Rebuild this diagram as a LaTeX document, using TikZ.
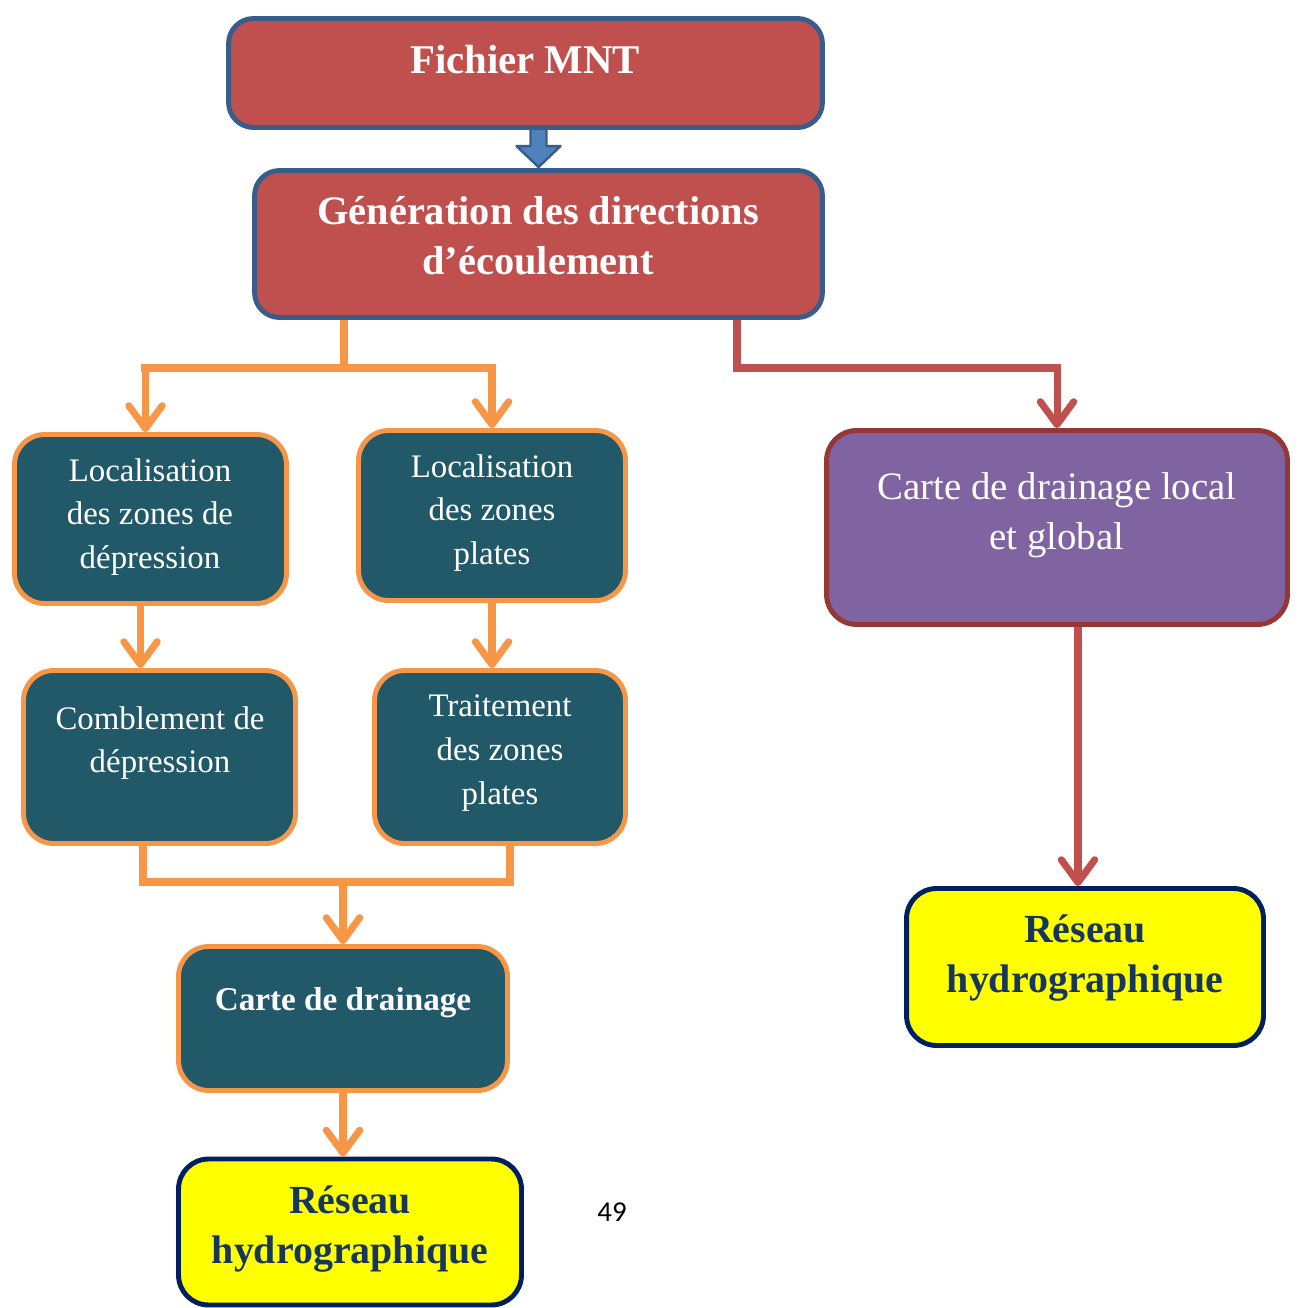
\documentclass[tikz,border=0pt]{standalone}
\usepackage{fontspec}
\setmainfont{Liberation Serif}
\newfontfamily\pagefont{Carlito}
\usetikzlibrary{positioning}
\usetikzlibrary{calc}
\usetikzlibrary{arrows.meta}
\definecolor{boxred}{HTML}{C0504D}
\definecolor{boxblue}{HTML}{385D8A}
\definecolor{arrowblue}{HTML}{4F81BD}
\definecolor{boxteal}{HTML}{215968}
\definecolor{lineorange}{HTML}{F79646}
\definecolor{boxpurple}{HTML}{8064A2}
\definecolor{darkred}{HTML}{953735}
\definecolor{navy}{HTML}{002060}
\definecolor{navytext}{HTML}{17365D}
\definecolor{boxyellow}{RGB}{255,255,0}

\begin{document}
\begin{tikzpicture}[
	x=0.02cm, y=-0.02cm,
	redbox/.style={draw=boxblue, fill=boxred, line width=2.8pt, rounded corners=0.5cm},
	tealbox/.style={draw=lineorange, fill=boxteal, line width=2.8pt, rounded corners=0.6cm},
	purplebox/.style={draw=darkred, fill=boxpurple, line width=2.8pt, rounded corners=0.6cm},
	yellowbox/.style={draw=navy, fill=boxyellow, line width=2.8pt, rounded corners=0.6cm},
	txt/.style={align=center, text=white, inner sep=0pt},
	orangeline/.style={draw=lineorange, line width=4pt},
	orangearrow/.style={orangeline, -{Straight Barb[length=13pt,width=19pt,round]}},
	redline/.style={draw=boxred, line width=4pt},
	redarrow/.style={redline, -{Straight Barb[length=13pt,width=19pt,round]}}
]

	\useasboundingbox (0,0) rectangle (1298,1308);

	% boxes
	\node[redbox, minimum width=11.88cm, minimum height=2.18cm] (mnt) at (525.5,73) {};
	\node[redbox, minimum width=11.36cm, minimum height=2.94cm] (gen) at (538.5,244) {};
	\node[tealbox, minimum width=5.44cm, minimum height=3.38cm] (locdep) at (150.5,519) {};
	\node[tealbox, minimum width=5.34cm, minimum height=3.40cm] (locpla) at (492,515.5) {};
	\node[tealbox, minimum width=5.44cm, minimum height=3.46cm] (comb) at (159.5,757) {};
	\node[tealbox, minimum width=5.02cm, minimum height=3.46cm] (trait) at (500,757) {};
	\node[tealbox, minimum width=6.58cm, minimum height=2.88cm] (carte) at (343,1018.5) {};
	\node[yellowbox, minimum width=6.86cm, minimum height=2.92cm] (res1) at (350,1232) {};
	\node[purplebox, minimum width=9.22cm, minimum height=3.88cm] (local) at (1057,527.5) {};
	\node[yellowbox, minimum width=7.14cm, minimum height=3.14cm] (res2) at (1085,967) {};

	% texts
	\node[txt, font=\fontsize{23.2pt}{28.3pt}\selectfont\bfseries] (mnt-t) at (525,60) {Fichier MNT};
	\node[txt, font=\fontsize{23pt}{28.3pt}\selectfont\bfseries] (gen-t) at (538,236) {Génération des directions\\d’écoulement};
	\node[txt, font=\fontsize{18.7pt}{24.9pt}\selectfont] (locdep-t) at (150,517) {Localisation\\des zones de\\dépression};
	\node[txt, font=\fontsize{18.7pt}{24.9pt}\selectfont] (locpla-t) at (492,513) {Localisation\\des zones\\plates};
	\node[txt, font=\fontsize{18.7pt}{24.9pt}\selectfont] (comb-t) at (160,743) {Comblement de\\dépression};
	\node[txt, font=\fontsize{18.7pt}{24.9pt}\selectfont] (trait-t) at (500,753) {Traitement\\des zones\\plates};
	\node[txt, font=\fontsize{18.9pt}{24.9pt}\selectfont\bfseries] (carte-t) at (343,1003) {Carte de drainage};
	\node[txt, text=navytext, font=\fontsize{22.7pt}{28.3pt}\selectfont\bfseries] (res1-t) at (350,1229) {Réseau\\hydrographique};
	\node[txt, font=\fontsize{22.1pt}{28.3pt}\selectfont] (local-t) at (1057,515) {Carte de drainage local\\et global};
	\node[txt, text=navytext, font=\fontsize{22.7pt}{28.3pt}\selectfont\bfseries] (res2-t) at (1085,958) {Réseau\\hydrographique};
	\node[inner sep=0pt, font=\pagefont\fontsize{16.4pt}{19pt}\selectfont] (page) at (612,1212) {49};

	% block arrow
	\coordinate (b1) at (mnt.south -| gen.north);
	\draw[draw=boxblue, fill=arrowblue, line width=1.4pt, line join=round]
		($(b1)+(-8,-1)$) -- ($(b1)+(8,-1)$) -- ($(gen.north)+(8,-22)$) -- ($(gen.north)+(22,-22)$)
		-- ($(gen.north)+(0,-1)$) -- ($(gen.north)+(-22,-22)$) -- ($(gen.north)+(-8,-22)$) -- cycle;

	% connectors
	\coordinate (split1) at (344,368);
	\coordinate (split2) at (737,368);
	\coordinate (merge) at (343,882);
	\draw[orangeline] (gen.south -| split1) -- (split1);
	\draw[orangeline] ([xshift=-0.2cm]locdep.north |- split1) -- ([xshift=0.04cm]locpla.north |- split1);
	\draw[orangearrow] (split1) -| ([xshift=-0.1cm]locdep.north);
	\draw[orangearrow] (split1) -| (locpla.north);
	\draw[redarrow] (gen.south -| split2) -- (split2) -| (local.north);
	\draw[orangearrow] ([xshift=-0.2cm]locdep.south) -- ([xshift=-0.2cm]locdep.south |- comb.north);
	\draw[orangearrow] (locpla.south) -- (locpla.south |- trait.north);
	\draw[orangeline] ([xshift=-0.33cm]comb.south) |- ([xshift=0.2cm]trait.south |- merge) -- ([xshift=0.2cm]trait.south);
	\draw[orangearrow] (merge) -- (carte.north);
	\draw[orangearrow] (carte.south) -- (carte.south |- res1.north);
	\draw[redarrow] ([xshift=0.42cm]local.south) -- ([xshift=0.42cm]local.south |- res2.north);

\end{tikzpicture}
\end{document}
